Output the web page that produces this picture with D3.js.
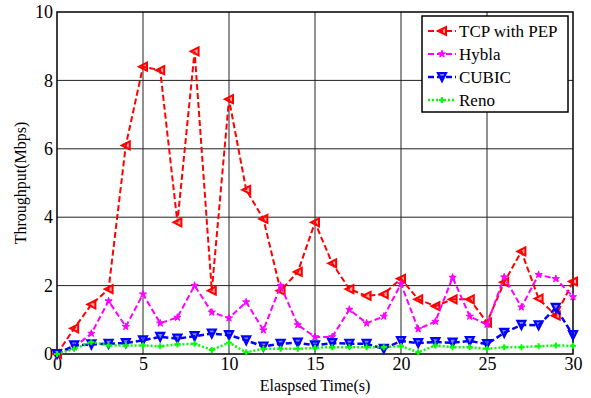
<!DOCTYPE html>
<html>
<head>
<meta charset="utf-8">
<script src="https://cdn.jsdelivr.net/npm/d3@7"></script>
<style>
  body { margin: 0; background: #fff; }
  text { font-family: "Liberation Serif", "Times New Roman", serif; }
</style>
</head>
<body>
<svg id="chart" width="591" height="398"></svg>
<script>
const times = d3.range(0, 31);
const pep = [0, 0.75, 1.45, 1.9, 6.1, 8.4, 8.3, 3.85, 8.85, 1.85, 7.45, 4.8, 3.95, 1.85, 2.4,
  3.85, 2.65, 1.9, 1.7, 1.75, 2.2, 1.6, 1.4, 1.6, 1.6, 0.92, 2.1, 3.0, 1.62, 1.12, 2.12];
const hybla = [0, 0.2, 0.6, 1.55, 0.8, 1.75, 0.9, 1.07, 2.0, 1.22, 1.05, 1.52, 0.7, 2.0, 0.85,
  0.5, 0.5, 1.3, 0.9, 1.1, 2.05, 0.73, 0.95, 2.24, 1.1, 0.86, 2.25, 1.37, 2.32, 2.2, 1.67];
const cubic = [0, 0.25, 0.28, 0.3, 0.32, 0.4, 0.5, 0.45, 0.52, 0.6, 0.55, 0.4, 0.22, 0.3, 0.33,
  0.25, 0.32, 0.3, 0.3, 0.15, 0.38, 0.32, 0.35, 0.33, 0.38, 0.29, 0.62, 0.85, 0.84, 1.35, 0.55];
const reno = [0, 0.15, 0.35, 0.25, 0.25, 0.25, 0.23, 0.28, 0.3, 0.12, 0.33, 0.05, 0.15, 0.15, 0.15,
  0.18, 0.2, 0.2, 0.2, 0.2, 0.23, 0.05, 0.25, 0.2, 0.2, 0.15, 0.2, 0.2, 0.23, 0.25, 0.24];
const xTicks = [0, 5, 10, 15, 20, 25, 30];
const yTicks = [0, 2, 4, 6, 8, 10];

const series = [
  { name: 'TCP with PEP', values: pep, color: '#ff0000', dash: '6,3', width: 2, marker: 'left' },
  { name: 'Hybla', values: hybla, color: '#ff00ff', dash: '6,3', width: 2, marker: 'star' },
  { name: 'CUBIC', values: cubic, color: '#0000ff', dash: '6,3', width: 2.5, marker: 'down' },
  { name: 'Reno', values: reno, color: '#00ff00', dash: '2,2', width: 2.5, marker: 'plus' }
];

const svg = d3.select('#chart');
const margin = { left: 57, right: 18, top: 12, bottom: 44 };
const width = 591 - margin.left - margin.right;
const height = 398 - margin.top - margin.bottom;

const x = d3.scaleLinear().domain([0, 30]).range([0, width]);
const y = d3.scaleLinear().domain([0, 10]).range([height, 0]);

const g = svg.append('g').attr('transform', `translate(${margin.left},${margin.top})`);

// grid
g.append('g').selectAll('line').data(xTicks.slice(1, -1)).join('line')
  .attr('x1', d => x(d)).attr('x2', d => x(d)).attr('y1', 0).attr('y2', height)
  .attr('stroke', '#222').attr('stroke-width', 1);
g.append('g').selectAll('line').data(yTicks.slice(1, -1)).join('line')
  .attr('y1', d => y(d)).attr('y2', d => y(d)).attr('x1', 0).attr('x2', width)
  .attr('stroke', '#222').attr('stroke-width', 1);

// axes
const xAxis = g.append('g').attr('transform', `translate(0,${height})`)
  .call(d3.axisBottom(x).tickValues(xTicks).tickSize(0).tickPadding(3));
const yAxis = g.append('g')
  .call(d3.axisLeft(y).tickValues(yTicks).tickSize(0).tickPadding(4));
[xAxis, yAxis].forEach(a => {
  a.attr('font-family', '"Liberation Serif", serif').attr('font-size', 18);
  a.select('.domain').remove();
  a.selectAll('text').attr('fill', '#000');
});

g.append('rect').attr('width', width).attr('height', height)
  .attr('fill', 'none').attr('stroke', '#000').attr('stroke-width', 1.5);

// markers
function drawMarker(sel, type, color) {
  const s = 4;
  if (type === 'left') {
    sel.append('path').attr('d', `M${-s},0L${s},${-s}L${s},${s}Z`)
      .attr('fill', color).attr('fill-opacity', 0.35).attr('stroke', color).attr('stroke-width', 2);
  } else if (type === 'down') {
    sel.append('path').attr('d', `M0,${s}L${-s},${-s}L${s},${-s}Z`)
      .attr('fill', color).attr('fill-opacity', 0.5).attr('stroke', color).attr('stroke-width', 2.2);
  } else if (type === 'star') {
    sel.append('path').attr('d', d3.symbol(d3.symbolStar, 16)())
      .attr('fill', color).attr('stroke', color).attr('stroke-width', 1);
  } else {
    sel.append('path').attr('d', 'M-3,0H3M0,-3V3')
      .attr('stroke', color).attr('stroke-width', 2);
  }
}

const line = d3.line().x((d, i) => x(times[i])).y(d => y(d));

series.forEach(s => {
  g.append('path').datum(s.values).attr('d', line)
    .attr('fill', 'none').attr('stroke', s.color)
    .attr('stroke-width', s.width).attr('stroke-dasharray', s.dash);
  g.append('g').selectAll('g').data(s.values).join('g')
    .attr('transform', (d, i) => `translate(${x(times[i])},${y(d)})`)
    .each(function () { drawMarker(d3.select(this), s.marker, s.color); });
});

// axis titles
svg.append('text').attr('x', margin.left + width / 2).attr('y', 391)
  .attr('text-anchor', 'middle').attr('font-size', 16).text('Elaspsed Time(s)');
svg.append('text').attr('transform', `translate(26,${margin.top + height / 2}) rotate(-90)`)
  .attr('text-anchor', 'middle').attr('font-size', 16).text('Throughput(Mbps)');

// legend
const lg = svg.append('g').attr('transform', 'translate(422,16)');
lg.append('rect').attr('width', 146).attr('height', 96)
  .attr('fill', '#fff').attr('stroke', '#000').attr('stroke-width', 1.5);
series.forEach((s, i) => {
  const row = lg.append('g').attr('transform', `translate(6,${15 + i * 23})`);
  row.append('line').attr('x1', 0).attr('x2', 28).attr('y1', 0).attr('y2', 0)
    .attr('stroke', s.color).attr('stroke-width', s.width).attr('stroke-dasharray', s.dash);
  drawMarker(row.append('g').attr('transform', 'translate(14,0)'), s.marker, s.color);
  row.append('text').attr('x', 31).attr('y', 6).attr('font-size', 17).text(s.name);
});
</script>
</body>
</html>
